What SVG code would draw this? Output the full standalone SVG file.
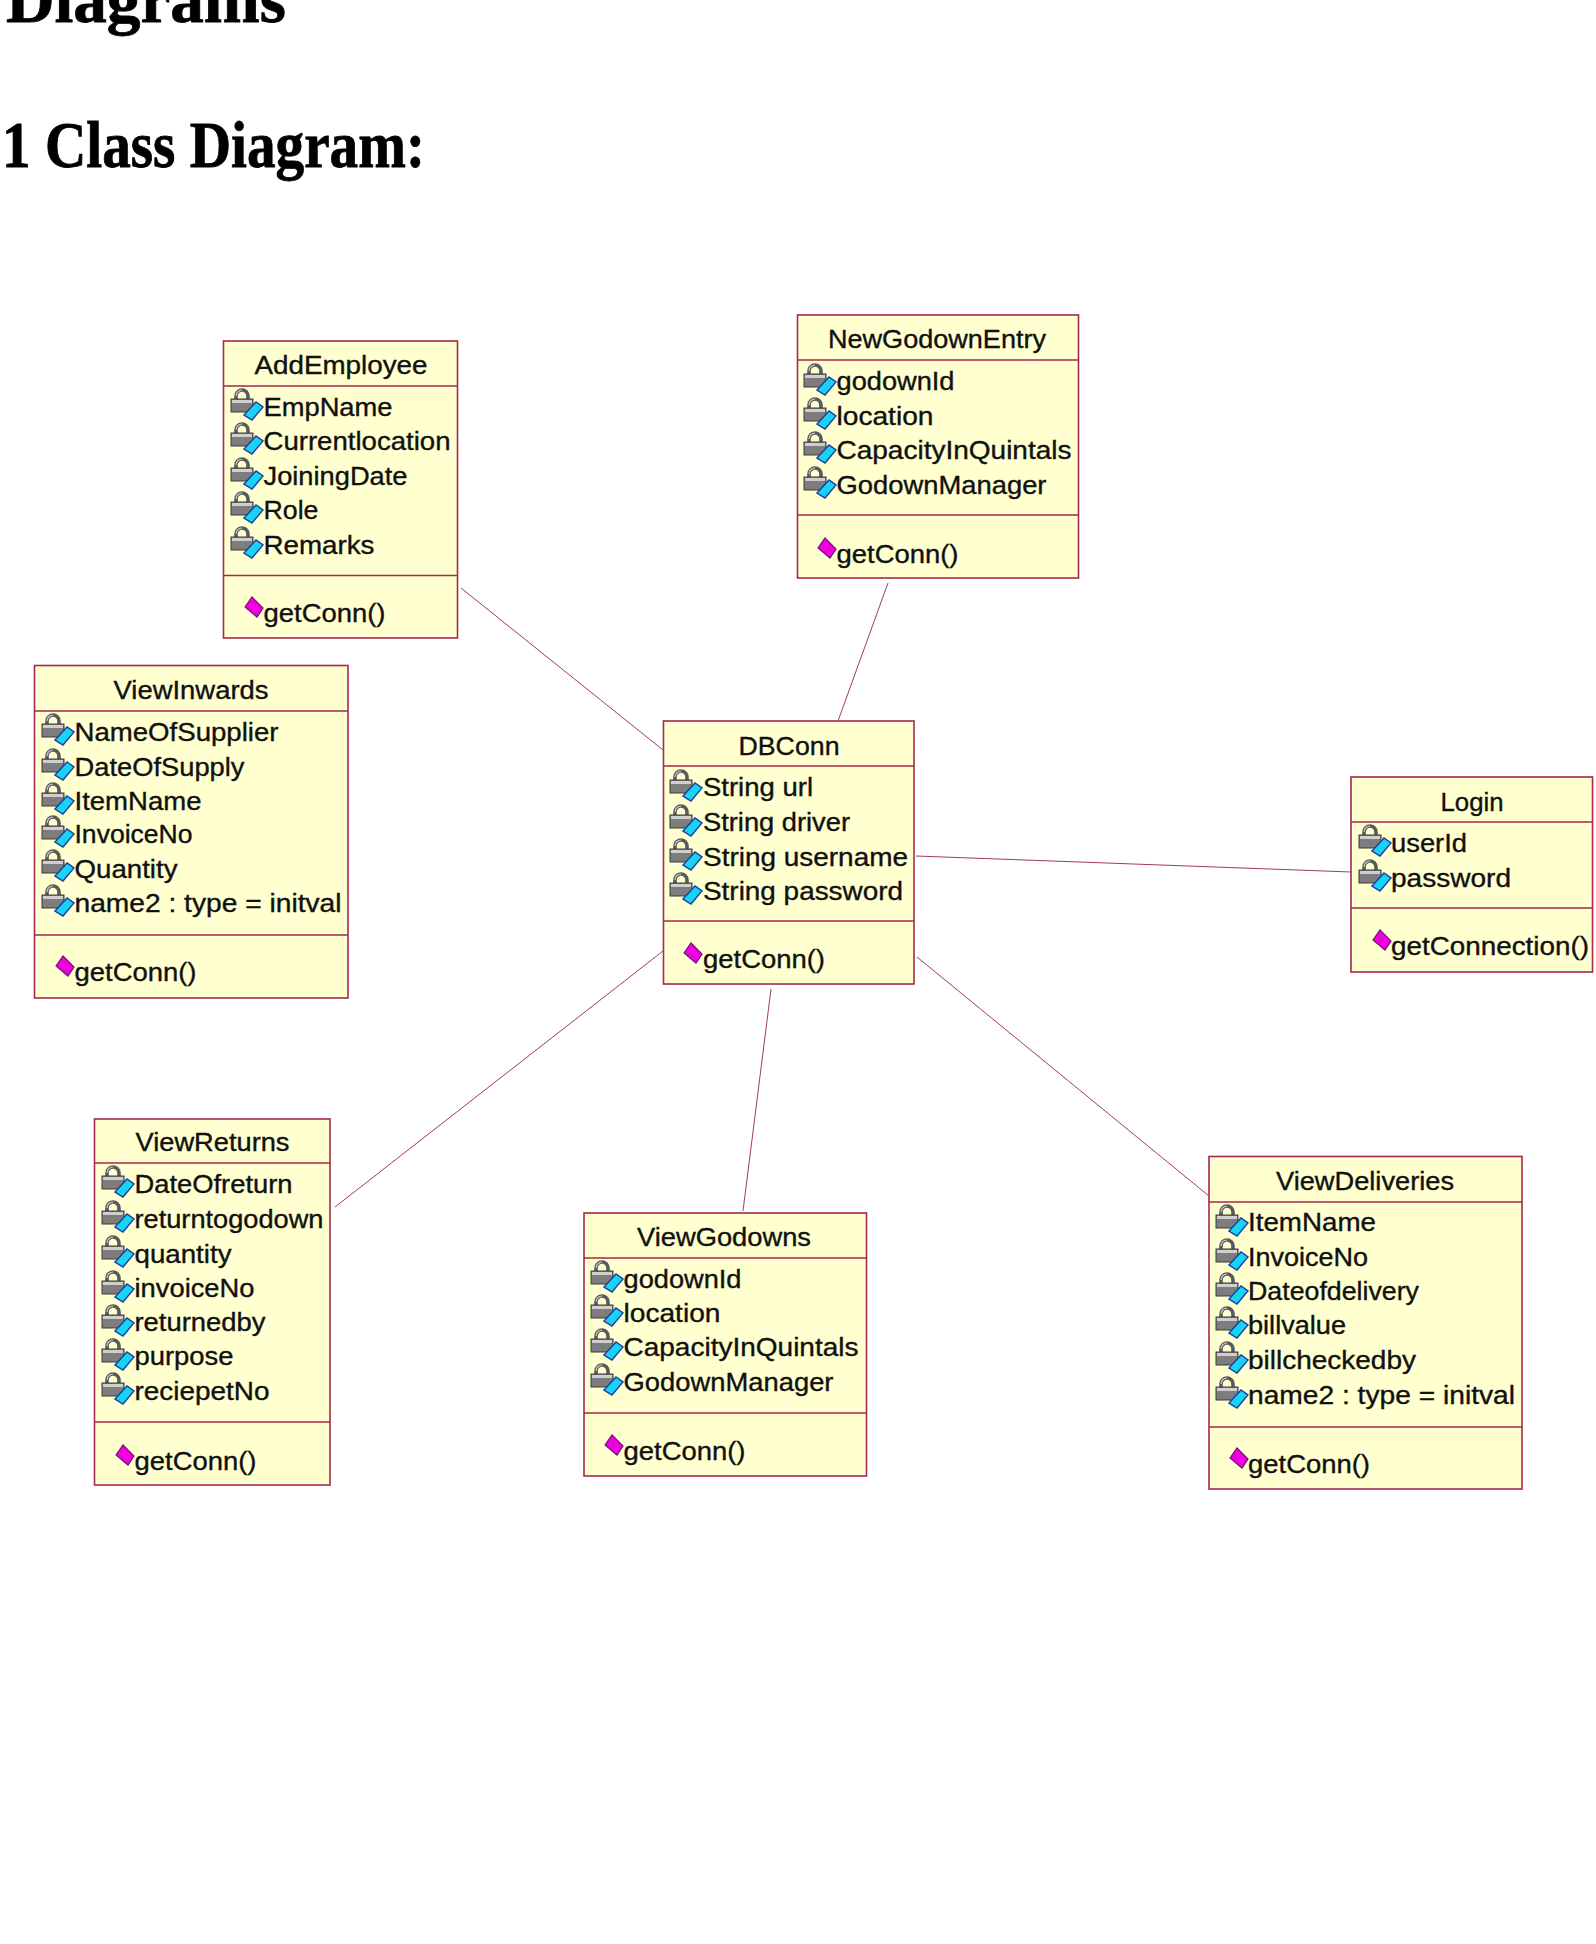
<svg xmlns="http://www.w3.org/2000/svg" width="1596" height="1944" viewBox="0 0 1596 1944">
<style>
.box{fill:#ffffd0;stroke:#a5284f;stroke-width:1.6}
.sep{stroke:#a5284f;stroke-width:1.6;fill:none}
.conn{stroke:#a03a62;stroke-width:1;fill:none}
text{fill:#111;stroke:#111;stroke-width:.35;font-family:"Liberation Sans",Arial,sans-serif;font-size:25px}
.t{text-anchor:middle}
.h{font-family:"Liberation Serif","Times New Roman",serif;font-weight:700;font-size:65px;fill:#000;stroke:#000;stroke-width:.8}
</style>
<defs>
<g id="attr">
<path d="M-29-16v-4a6 6 0 0 1 12 0v4" fill="none" stroke="#5a5a5a" stroke-width="3.600"/>
<path d="M-29-20a6 6 0 0 1 6-6" fill="none" stroke="#c8c8c8" stroke-width="1.200"/>
<rect x="-34" y="-17" width="22" height="13" fill="#7d7d7d" stroke="#3c3c3c" stroke-width="1"/>
<rect x="-33" y="-16" width="20" height="3" fill="#cfcfcf"/>
<path d="M-21-1-9-14-2-9-13 4Z" fill="#19d3f5" stroke="#1a3fa0" stroke-width="1.400"/>
</g>
<g id="meth">
<path d="M-20-15-13-25-2-14-8-5Z" fill="#f000e0" stroke="#701070" stroke-width="1.200"/>
</g>
</defs>
<text class="h" x="6" y="22" textLength="280" lengthAdjust="spacingAndGlyphs">Diagrams</text>
<text class="h" x="2" y="167" textLength="423" lengthAdjust="spacingAndGlyphs">1 Class Diagram:</text>
<g id="connectors">
<line class="conn" x1="461" y1="588" x2="663" y2="750"/>
<line class="conn" x1="888" y1="583" x2="838" y2="721"/>
<line class="conn" x1="916" y1="856" x2="1351" y2="872"/>
<line class="conn" x1="663" y1="951" x2="335" y2="1207"/>
<line class="conn" x1="771" y1="989" x2="743" y2="1211"/>
<line class="conn" x1="917" y1="957" x2="1209" y2="1196"/>
</g>
<g id="AddEmployee">
<rect class="box" x="223.500" y="341" width="234" height="297"/>
<path class="sep" d="M223.500 386H457.500M223.500 575.500H457.500"/>
<text class="t" x="341" y="374" textLength="173" lengthAdjust="spacingAndGlyphs">AddEmployee</text>
<use href="#attr" x="265" y="416"/><text x="263.500" y="416" textLength="129" lengthAdjust="spacingAndGlyphs">EmpName</text>
<use href="#attr" x="265" y="450"/><text x="263.500" y="450" textLength="187" lengthAdjust="spacingAndGlyphs">Currentlocation</text>
<use href="#attr" x="265" y="485"/><text x="263.500" y="485" textLength="144" lengthAdjust="spacingAndGlyphs">JoiningDate</text>
<use href="#attr" x="265" y="519"/><text x="263.500" y="519" textLength="55" lengthAdjust="spacingAndGlyphs">Role</text>
<use href="#attr" x="265" y="554"/><text x="263.500" y="554" textLength="111" lengthAdjust="spacingAndGlyphs">Remarks</text>
<use href="#meth" x="265" y="622"/><text x="263.500" y="622" textLength="122" lengthAdjust="spacingAndGlyphs">getConn()</text>
</g>
<g id="NewGodownEntry">
<rect class="box" x="797.500" y="315" width="281" height="263"/>
<path class="sep" d="M797.500 360H1078.500M797.500 515H1078.500"/>
<text class="t" x="937" y="348" textLength="218" lengthAdjust="spacingAndGlyphs">NewGodownEntry</text>
<use href="#attr" x="838" y="391"/><text x="836.500" y="390" textLength="118" lengthAdjust="spacingAndGlyphs">godownId</text>
<use href="#attr" x="838" y="425"/><text x="836.500" y="425" textLength="97" lengthAdjust="spacingAndGlyphs">location</text>
<use href="#attr" x="838" y="459"/><text x="836.500" y="459" textLength="235" lengthAdjust="spacingAndGlyphs">CapacityInQuintals</text>
<use href="#attr" x="838" y="494"/><text x="836.500" y="494" textLength="210" lengthAdjust="spacingAndGlyphs">GodownManager</text>
<use href="#meth" x="838" y="563"/><text x="836.500" y="563" textLength="122" lengthAdjust="spacingAndGlyphs">getConn()</text>
</g>
<g id="ViewInwards">
<rect class="box" x="34.500" y="665.500" width="313.500" height="332.500"/>
<path class="sep" d="M34.500 711H348M34.500 935H348"/>
<text class="t" x="191" y="699" textLength="155" lengthAdjust="spacingAndGlyphs">ViewInwards</text>
<use href="#attr" x="76" y="741"/><text x="74.500" y="741" textLength="204" lengthAdjust="spacingAndGlyphs">NameOfSupplier</text>
<use href="#attr" x="76" y="776"/><text x="74.500" y="776" textLength="170" lengthAdjust="spacingAndGlyphs">DateOfSupply</text>
<use href="#attr" x="76" y="810"/><text x="74.500" y="810" textLength="127" lengthAdjust="spacingAndGlyphs">ItemName</text>
<use href="#attr" x="76" y="843"/><text x="74.500" y="843" textLength="118" lengthAdjust="spacingAndGlyphs">InvoiceNo</text>
<use href="#attr" x="76" y="877"/><text x="74.500" y="878" textLength="103" lengthAdjust="spacingAndGlyphs">Quantity</text>
<use href="#attr" x="76" y="912"/><text x="74.500" y="912" textLength="267" lengthAdjust="spacingAndGlyphs">name2 : type = initval</text>
<use href="#meth" x="76" y="981"/><text x="74.500" y="981" textLength="122" lengthAdjust="spacingAndGlyphs">getConn()</text>
</g>
<g id="DBConn">
<rect class="box" x="663.500" y="721" width="250.500" height="263"/>
<path class="sep" d="M663.500 766H914M663.500 921H914"/>
<text class="t" x="789" y="755" textLength="101" lengthAdjust="spacingAndGlyphs">DBConn</text>
<use href="#attr" x="704" y="797"/><text x="703" y="796" textLength="110" lengthAdjust="spacingAndGlyphs">String url</text>
<use href="#attr" x="704" y="832"/><text x="703" y="831" textLength="147" lengthAdjust="spacingAndGlyphs">String driver</text>
<use href="#attr" x="704" y="866"/><text x="703" y="866" textLength="205" lengthAdjust="spacingAndGlyphs">String username</text>
<use href="#attr" x="704" y="900"/><text x="703" y="900" textLength="200" lengthAdjust="spacingAndGlyphs">String password</text>
<use href="#meth" x="704" y="968"/><text x="703" y="968" textLength="122" lengthAdjust="spacingAndGlyphs">getConn()</text>
</g>
<g id="Login">
<rect class="box" x="1351" y="777" width="241.500" height="195"/>
<path class="sep" d="M1351 822H1592.500M1351 908H1592.500"/>
<text class="t" x="1472" y="811" textLength="63" lengthAdjust="spacingAndGlyphs">Login</text>
<use href="#attr" x="1393" y="852"/><text x="1391" y="852" textLength="76" lengthAdjust="spacingAndGlyphs">userId</text>
<use href="#attr" x="1393" y="887"/><text x="1391" y="887" textLength="120" lengthAdjust="spacingAndGlyphs">password</text>
<use href="#meth" x="1393" y="955"/><text x="1391" y="955" textLength="198" lengthAdjust="spacingAndGlyphs">getConnection()</text>
</g>
<g id="ViewReturns">
<rect class="box" x="94.500" y="1119" width="235.500" height="366"/>
<path class="sep" d="M94.500 1163H330M94.500 1422H330"/>
<text class="t" x="212.500" y="1151" textLength="154" lengthAdjust="spacingAndGlyphs">ViewReturns</text>
<use href="#attr" x="136" y="1193"/><text x="134.500" y="1193" textLength="158" lengthAdjust="spacingAndGlyphs">DateOfreturn</text>
<use href="#attr" x="136" y="1228"/><text x="134.500" y="1228" textLength="189" lengthAdjust="spacingAndGlyphs">returntogodown</text>
<use href="#attr" x="136" y="1263"/><text x="134.500" y="1263" textLength="97" lengthAdjust="spacingAndGlyphs">quantity</text>
<use href="#attr" x="136" y="1298"/><text x="134.500" y="1297" textLength="120" lengthAdjust="spacingAndGlyphs">invoiceNo</text>
<use href="#attr" x="136" y="1332"/><text x="134.500" y="1331" textLength="131" lengthAdjust="spacingAndGlyphs">returnedby</text>
<use href="#attr" x="136" y="1366"/><text x="134.500" y="1365" textLength="99" lengthAdjust="spacingAndGlyphs">purpose</text>
<use href="#attr" x="136" y="1400"/><text x="134.500" y="1400" textLength="135" lengthAdjust="spacingAndGlyphs">reciepetNo</text>
<use href="#meth" x="136" y="1470"/><text x="134.500" y="1470" textLength="122" lengthAdjust="spacingAndGlyphs">getConn()</text>
</g>
<g id="ViewGodowns">
<rect class="box" x="584" y="1213" width="282.500" height="263"/>
<path class="sep" d="M584 1258H866.500M584 1413H866.500"/>
<text class="t" x="724" y="1246" textLength="174" lengthAdjust="spacingAndGlyphs">ViewGodowns</text>
<use href="#attr" x="625" y="1288"/><text x="623.500" y="1288" textLength="118" lengthAdjust="spacingAndGlyphs">godownId</text>
<use href="#attr" x="625" y="1322"/><text x="623.500" y="1322" textLength="97" lengthAdjust="spacingAndGlyphs">location</text>
<use href="#attr" x="625" y="1356"/><text x="623.500" y="1356" textLength="235" lengthAdjust="spacingAndGlyphs">CapacityInQuintals</text>
<use href="#attr" x="625" y="1391"/><text x="623.500" y="1391" textLength="210" lengthAdjust="spacingAndGlyphs">GodownManager</text>
<use href="#meth" x="625" y="1460"/><text x="623.500" y="1460" textLength="122" lengthAdjust="spacingAndGlyphs">getConn()</text>
</g>
<g id="ViewDeliveries">
<rect class="box" x="1209" y="1156.500" width="313" height="332.500"/>
<path class="sep" d="M1209 1202H1522M1209 1427H1522"/>
<text class="t" x="1365" y="1190" textLength="178" lengthAdjust="spacingAndGlyphs">ViewDeliveries</text>
<use href="#attr" x="1250" y="1232"/><text x="1248" y="1231" textLength="128" lengthAdjust="spacingAndGlyphs">ItemName</text>
<use href="#attr" x="1250" y="1266"/><text x="1248" y="1266" textLength="120" lengthAdjust="spacingAndGlyphs">InvoiceNo</text>
<use href="#attr" x="1250" y="1300"/><text x="1248" y="1300" textLength="171" lengthAdjust="spacingAndGlyphs">Dateofdelivery</text>
<use href="#attr" x="1250" y="1334"/><text x="1248" y="1334" textLength="98" lengthAdjust="spacingAndGlyphs">billvalue</text>
<use href="#attr" x="1250" y="1369"/><text x="1248" y="1369" textLength="168" lengthAdjust="spacingAndGlyphs">billcheckedby</text>
<use href="#attr" x="1250" y="1404"/><text x="1248" y="1404" textLength="267" lengthAdjust="spacingAndGlyphs">name2 : type = initval</text>
<use href="#meth" x="1250" y="1473"/><text x="1248" y="1473" textLength="122" lengthAdjust="spacingAndGlyphs">getConn()</text>
</g>
</svg>
